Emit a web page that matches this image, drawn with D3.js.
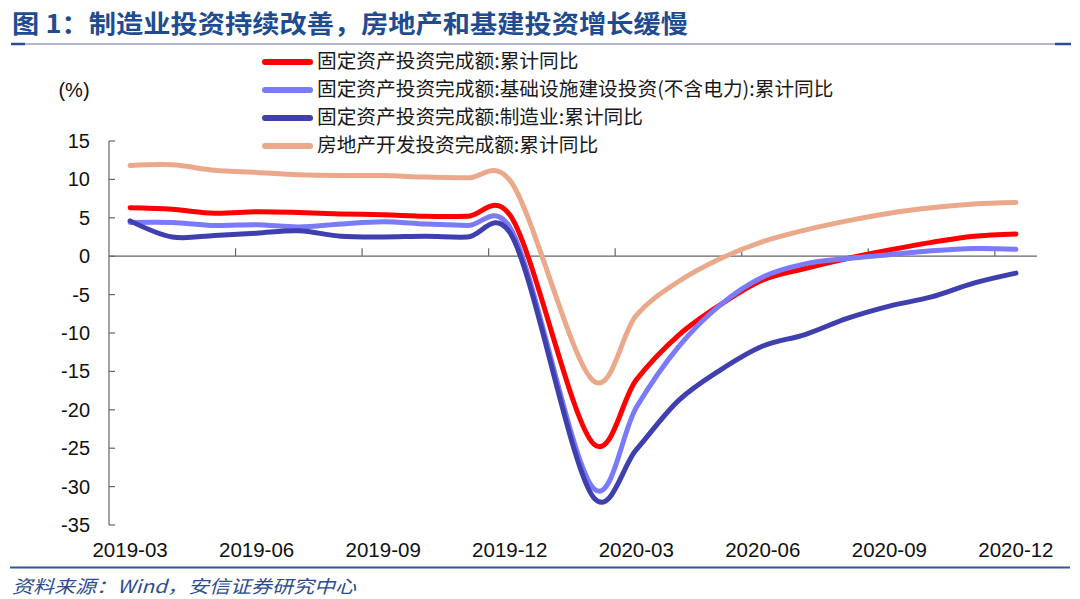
<!DOCTYPE html>
<html>
<head>
<meta charset="utf-8">
<script src="https://cdn.jsdelivr.net/npm/d3@7"></script>
<style>
  html, body { margin: 0; padding: 0; background: #fff; }
  svg { display: block; }
</style>
</head>
<body>
<svg id="chart" width="1080" height="599"></svg>
<script>
// ---- data ----
const axisMonths = ["2019-03","2019-04","2019-05","2019-06","2019-07","2019-08","2019-09","2019-10","2019-11","2019-12",
  "2020-01","2020-02","2020-03","2020-04","2020-05","2020-06","2020-07","2020-08","2020-09","2020-10","2020-11","2020-12"];
const dataMonths = ["2019-03","2019-04","2019-05","2019-06","2019-07","2019-08","2019-09","2019-10","2019-11","2019-12",
  "2020-02","2020-03","2020-04","2020-05","2020-06","2020-07","2020-08","2020-09","2020-10","2020-11","2020-12"];
const tickLabels = ["2019-03","2019-06","2019-09","2019-12","2020-03","2020-06","2020-09","2020-12"];
const yTicks = [15, 10, 5, 0, -5, -10, -15, -20, -25, -30, -35];

const seriesNames = [
  "固定资产投资完成额:累计同比",
  "固定资产投资完成额:基础设施建设投资(不含电力):累计同比",
  "固定资产投资完成额:制造业:累计同比",
  "房地产开发投资完成额:累计同比"
];
const faiTotal = [6.3, 6.1, 5.6, 5.8, 5.7, 5.5, 5.4, 5.2, 5.2, 5.4, -24.5, -16.1, -10.3, -6.3, -3.1, -1.6, -0.3, 0.8, 1.8, 2.6, 2.9];
const faiInfra = [4.4, 4.4, 4.0, 4.1, 3.8, 4.2, 4.5, 4.2, 4.0, 3.8, -30.3, -19.7, -11.8, -6.3, -2.7, -1.0, -0.3, 0.2, 0.7, 1.0, 0.9];
const faiManu  = [4.6, 2.5, 2.7, 3.0, 3.3, 2.6, 2.5, 2.6, 2.5, 3.1, -31.5, -25.2, -18.8, -14.8, -11.7, -10.2, -8.1, -6.5, -5.3, -3.5, -2.2];
const reInvest = [11.8, 11.9, 11.2, 10.9, 10.6, 10.5, 10.5, 10.3, 10.2, 9.9, -16.3, -7.7, -3.3, -0.3, 1.9, 3.4, 4.6, 5.6, 6.3, 6.8, 7.0];
const seriesColors = ["#ff0000", "#7b7bf9", "#3f3fae", "#eaa98b"];

// ---- chart ----
const svg = d3.select("#chart");
const x = d3.scaleBand().domain(axisMonths).range([109, 1037]).padding(0);
const xc = m => x(m) + x.bandwidth() / 2;
const y = d3.scaleLinear().domain([-35, 15]).range([525, 141]);

// title
svg.append("text")
  .attr("x", 12).attr("y", 33)
  .attr("font-family", "'Noto Sans CJK SC', sans-serif")
  .attr("font-weight", "bold").attr("font-size", 25)
  .attr("fill", "#1f4c90")
  .attr("textLength", 676).attr("lengthAdjust", "spacingAndGlyphs")
  .text("图 1：制造业投资持续改善，房地产和基建投资增长缓慢");

// top rule
svg.append("line").attr("x1", 11).attr("x2", 1071).attr("y1", 44).attr("y2", 44)
  .attr("stroke", "#98a1bf").attr("stroke-width", 1.5);
svg.append("line").attr("x1", 11).attr("x2", 25).attr("y1", 44).attr("y2", 44)
  .attr("stroke", "#2b4a9a").attr("stroke-width", 2.5);
svg.append("line").attr("x1", 1055).attr("x2", 1071).attr("y1", 44).attr("y2", 44)
  .attr("stroke", "#2b4a9a").attr("stroke-width", 2.5);

// bottom rule
svg.append("line").attr("x1", 10).attr("x2", 1070).attr("y1", 567.5).attr("y2", 567.5)
  .attr("stroke", "#34549f").attr("stroke-width", 2);

// footer
svg.append("text")
  .attr("x", 12).attr("y", 593)
  .attr("font-family", "'Noto Sans CJK SC', sans-serif")
  .attr("font-style", "italic").attr("font-size", 18)
  .attr("fill", "#2e4d8f")
  .attr("textLength", 344).attr("lengthAdjust", "spacingAndGlyphs")
  .text("资料来源：Wind，安信证券研究中心");

// unit label
svg.append("text")
  .attr("x", 74).attr("y", 90).attr("dy", "0.35em")
  .attr("text-anchor", "middle")
  .attr("font-family", "'Liberation Sans', Arial, sans-serif")
  .attr("font-size", 20).attr("fill", "#111")
  .text("(%)");

// y axis
const axisColor = "#666";
svg.append("line").attr("x1", 109).attr("x2", 109).attr("y1", y(15)).attr("y2", y(-35))
  .attr("stroke", axisColor).attr("stroke-width", 1.2);
const yg = svg.append("g");
yg.selectAll("line").data(yTicks).join("line")
  .attr("x1", 109).attr("x2", 115)
  .attr("y1", d => y(d)).attr("y2", d => y(d))
  .attr("stroke", axisColor).attr("stroke-width", 1.2);
yg.selectAll("text").data(yTicks).join("text")
  .attr("x", 90).attr("y", d => y(d)).attr("dy", "0.35em")
  .attr("text-anchor", "end")
  .attr("font-family", "'Liberation Sans', Arial, sans-serif")
  .attr("font-size", 20).attr("fill", "#111")
  .text(d => d);

// x axis at zero
svg.append("line").attr("x1", 109).attr("x2", 1037).attr("y1", y(0)).attr("y2", y(0))
  .attr("stroke", axisColor).attr("stroke-width", 1.2);
const xTickMonths = axisMonths.filter((m, i) => i % 3 === 0 && i > 0);
svg.append("g").selectAll("line").data(xTickMonths).join("line")
  .attr("x1", d => x(d)).attr("x2", d => x(d))
  .attr("y1", y(0)).attr("y2", y(0) - 8)
  .attr("stroke", axisColor).attr("stroke-width", 1.2);
svg.append("g").selectAll("text").data(tickLabels).join("text")
  .attr("x", d => xc(d)).attr("y", 557)
  .attr("text-anchor", "middle")
  .attr("font-family", "'Liberation Sans', Arial, sans-serif")
  .attr("font-size", 20.5).attr("fill", "#111")
  .text(d => d);

// lines
const allSeries = [faiTotal, faiInfra, faiManu, reInvest];
const line = d3.line()
  .x((d, i) => xc(dataMonths[i]))
  .y(d => y(d))
  .curve(d3.curveCatmullRom.alpha(0.2));
svg.append("g").selectAll("path").data(allSeries).join("path")
  .attr("d", d => line(d))
  .attr("fill", "none")
  .attr("stroke", (d, i) => seriesColors[i])
  .attr("stroke-width", 5)
  .attr("stroke-linecap", "round")
  .attr("stroke-linejoin", "round");

// legend
const legendY = [61, 89, 117, 145];
const lg = svg.append("g").selectAll("g").data(seriesNames).join("g");
lg.append("line")
  .attr("x1", 265).attr("x2", 310)
  .attr("y1", (d, i) => legendY[i] + 1).attr("y2", (d, i) => legendY[i] + 1)
  .attr("stroke", (d, i) => seriesColors[i])
  .attr("stroke-width", 6).attr("stroke-linecap", "round");
lg.append("text")
  .attr("x", 317).attr("y", (d, i) => legendY[i]).attr("dy", "0.36em")
  .attr("font-family", "'Noto Sans CJK SC', sans-serif")
  .attr("font-size", 19.7).attr("fill", "#1a1a1a")
  .text(d => d);
</script>
</body>
</html>
